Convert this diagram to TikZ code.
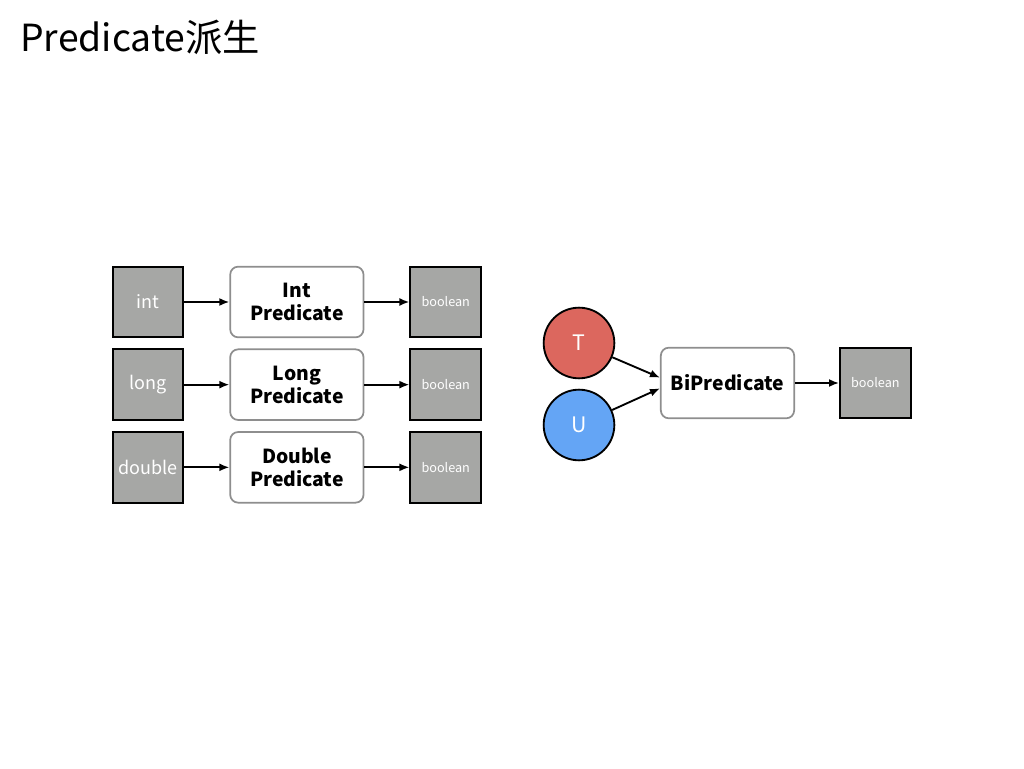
\documentclass[tikz,border=0pt]{standalone}
\usepackage{fontspec}
\setmainfont{Noto Sans CJK JP}
\usetikzlibrary{positioning,arrows.meta}
\definecolor{boxgray}{RGB}{166,167,165}
\definecolor{framegray}{RGB}{142,142,142}
\definecolor{tred}{RGB}{220,103,94}
\definecolor{ublue}{RGB}{100,165,245}
\tikzset{
typebox/.style = {draw=black, line width=1.5pt, fill=boxgray, text=white, minimum size=53pt, inner sep=0pt, font=\fontsize{13.5}{15}\selectfont},
boolbox/.style = {typebox, font=\fontsize{9.5}{11}\selectfont},
func/.style = {draw=framegray, line width=1.3pt, fill=white, rounded corners=6pt, align=center, minimum width=100pt, minimum height=53pt, font=\fontsize{14.5}{17}\selectfont\bfseries},
param/.style = {draw=black, line width=1.4pt, circle, minimum size=53pt, inner sep=0pt, text=white, font=\fontsize{16}{18}\selectfont},
flow/.style = {-{Latex[length=7.5pt,width=6pt]}, line width=1.4pt},
}

\begin{document}
\begin{tikzpicture}[x=0.75pt, y=0.75pt, node distance = 7.5pt and 33.75pt]

	\useasboundingbox (0,0) rectangle (1024,768);
	\node[anchor=base west, inner sep=0pt, font=\fontsize{28}{33}\selectfont] (title) at (20,716) {Predicate派生};

	\node[typebox] (int) at (148,466) {int};
	\node[typebox, below =of int] (long) {long};
	\node[typebox, below =of long] (double) {double};
	\node[func, right =of int] (IntPred) {Int\\Predicate};
	\node[func, right =of long] (LongPred) {Long\\Predicate};
	\node[func, right =of double] (DoublePred) {Double\\Predicate};
	\node[boolbox, right =of IntPred] (boolInt) {boolean};
	\node[boolbox, right =of LongPred] (boolLong) {boolean};
	\node[boolbox, right =of DoublePred] (boolDouble) {boolean};

	\node[param, fill=tred] (T) at (579,425) {T};
	\node[param, fill=ublue] (U) at (579,343) {U};
	\node[func] (BiPred) at (727.5,385) {BiPredicate};
	\node[boolbox, right =33pt of BiPred] (boolBi) {boolean};

	\draw[flow] (int) -- (IntPred);
	\draw[flow] (long) -- (LongPred);
	\draw[flow] (double) -- (DoublePred);
	\draw[flow] (IntPred) -- (boolInt);
	\draw[flow] (LongPred) -- (boolLong);
	\draw[flow] (DoublePred) -- (boolDouble);
	\draw[flow] (T) -- ([yshift=4pt]BiPred.west);
	\draw[flow] (U) -- ([yshift=-4pt]BiPred.west);
	\draw[flow] (BiPred) -- (boolBi);

\end{tikzpicture}
\end{document}
